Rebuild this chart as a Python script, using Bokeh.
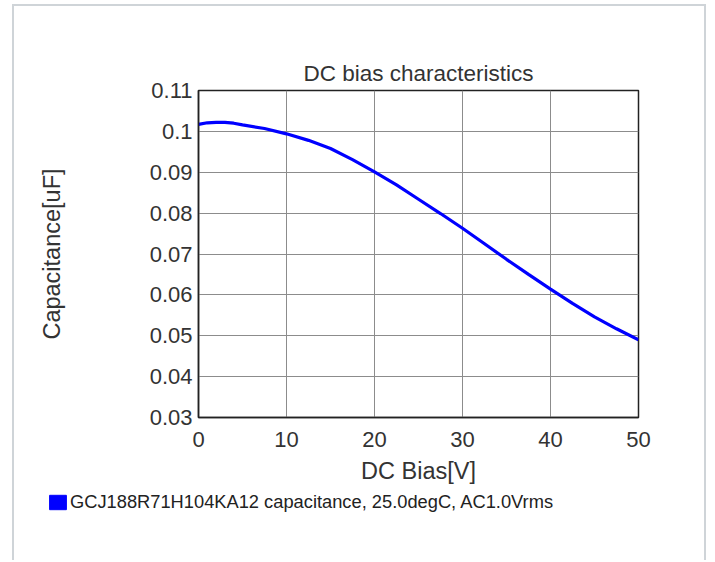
from bokeh.plotting import figure
from bokeh.models import Range1d, FixedTicker, Legend, LegendItem, ColumnDataSource
from bokeh.embed import file_html
from bokeh.resources import INLINE

# ---- data ----
bias_v = [0, 1, 2, 3, 4, 5, 7.5, 10, 12.5, 15, 17.5, 20, 22.5, 25, 27.5,
          30, 32.5, 35, 37.5, 40, 42.5, 45, 47.5, 50]
cap_uf = [0.1017, 0.1021, 0.1022, 0.1022, 0.1020, 0.1016, 0.1007, 0.0994,
          0.0978, 0.0958, 0.0931, 0.0901, 0.0869, 0.0834, 0.0799, 0.0763,
          0.0725, 0.0687, 0.0650, 0.0614, 0.0579, 0.0546, 0.0517, 0.0490]
x_ticks = [0, 10, 20, 30, 40, 50]
y_ticks = [0.03, 0.04, 0.05, 0.06, 0.07, 0.08, 0.09, 0.1, 0.11]
y_tick_labels = ["0.03", "0.04", "0.05", "0.06", "0.07", "0.08", "0.09", "0.1", "0.11"]
title_text = "DC bias characteristics"
x_label = "DC Bias[V]"
y_label = "Capacitance[uF]"
series_label = "GCJ188R71H104KA12 capacitance, 25.0degC, AC1.0Vrms"

FONT = "Liberation Sans"
TXT = "#333333"
BORDER = "2px solid #cfd4d8"

p = figure(width=694, height=486, output_backend="svg", toolbar_location=None,
           x_range=Range1d(0, 50), y_range=Range1d(0.03, 0.11),
           min_border_left=184, min_border_top=84, min_border_right=70,
           min_border_bottom=75)
p.margin = (4, 0, 0, 12)
p.styles = {"border-top": BORDER, "border-left": BORDER, "border-right": BORDER}

p.background_fill_color = "white"
p.border_fill_color = "white"
p.outline_line_color = "#222222"
p.outline_line_width = 1.5

p.title.text = title_text
p.title.align = "center"
p.title.text_font = FONT
p.title.text_font_size = "22.5px"
p.title.text_font_style = "normal"
p.title.text_color = TXT
p.title.standoff = 10

for ax in (p.xaxis[0], p.yaxis[0]):
    ax.major_tick_out = 0
    ax.major_tick_in = 0
    ax.minor_tick_out = 0
    ax.minor_tick_in = 0
    ax.axis_line_color = "#222222"
    ax.axis_line_width = 1.5
    ax.major_label_text_font = FONT
    ax.major_label_text_font_size = "22px"
    ax.major_label_text_color = TXT
    ax.axis_label_text_font = FONT
    ax.axis_label_text_font_size = "23.5px"
    ax.axis_label_text_font_style = "normal"
    ax.axis_label_text_color = TXT

p.xaxis.ticker = FixedTicker(ticks=x_ticks)
p.yaxis.ticker = FixedTicker(ticks=y_ticks)
p.yaxis.major_label_overrides = {t: l for t, l in zip(y_ticks, y_tick_labels)}
p.xaxis.axis_label = x_label
p.yaxis.axis_label = y_label
p.xaxis.major_label_standoff = 14
p.xaxis.axis_label_standoff = 8
p.yaxis.major_label_standoff = 6
p.yaxis.axis_label_standoff = 82

p.grid.grid_line_color = "#8c8c8c"
p.grid.grid_line_width = 1

src = ColumnDataSource(data=dict(x=bias_v, y=cap_uf))
p.line("x", "y", source=src, line_color="#0000ff", line_width=3.2)

# ---- legend strip below the chart (separate root, so its frame is not aligned/clipped) ----
lg = figure(width=694, height=70, output_backend="svg", toolbar_location=None,
            x_range=Range1d(0, 1), y_range=Range1d(0, 1),
            x_axis_type=None, y_axis_type=None,
            min_border_left=0, min_border_right=0, min_border_top=0, min_border_bottom=0)
lg.margin = (0, 0, 0, 12)
lg.styles = {"border-left": BORDER, "border-right": BORDER}
lg.outline_line_color = None
lg.grid.visible = False
lg.background_fill_color = "white"
lg.border_fill_color = "white"

# legend proxy glyph: one rect kept outside the visible range, only its legend swatch shows
swatch_src = ColumnDataSource(data=dict(x=[5], y=[5]))
swatch = lg.rect(x="x", y="y", source=swatch_src, width=0.1, height=0.1,
                 fill_color="#0000ff", line_color="#0000ff")
legend = Legend(items=[LegendItem(label=series_label, renderers=[swatch])],
                location=(33, 47), orientation="vertical",
                border_line_color=None, background_fill_alpha=0,
                padding=0, margin=0, spacing=0,
                glyph_width=21, glyph_height=18, label_standoff=2,
                label_text_font=FONT, label_text_font_size="18.3px",
                label_text_color="#222222", label_height=20)
lg.add_layout(legend, "center")

open("out.html", "w").write(file_html([p, lg], INLINE))
